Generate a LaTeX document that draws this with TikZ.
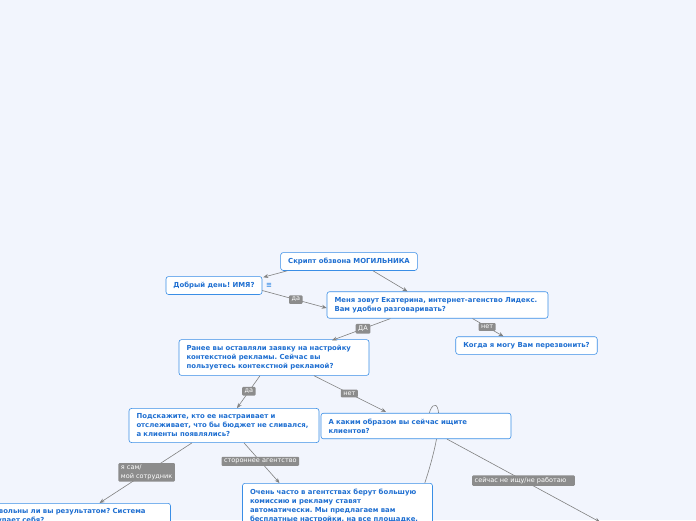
\documentclass[tikz,border=0pt]{standalone}
\usepackage{fontspec}
\setmainfont{DejaVu Sans}
\usepackage{xcolor}
\usetikzlibrary{arrows.meta}
\frenchspacing
\definecolor{mBack}{HTML}{F2F5FD}
\definecolor{mBoxBlue}{HTML}{3A8EE6}
\definecolor{mTextBlue}{HTML}{1F6FD1}
\definecolor{mLineGrey}{HTML}{808080}
\definecolor{mLabelGrey}{HTML}{8C8C8C}
\pgfdeclarelayer{back}
\pgfdeclarelayer{links}
\pgfsetlayers{back,links,main}
\newcommand{\snode}[4][]{%
 \node[draw=mBoxBlue, fill=white, semithick, rounded corners=2.5pt, inner xsep=7.5pt, inner ysep=5.5pt, font=\bfseries\fontsize{6.9}{9}\selectfont, text=mTextBlue, align=left, #1] (#2) at (#3) {#4};}
\tikzset{
 link/.style={-{Stealth[length=5pt,width=4pt]}, mLineGrey, semithick},
 lbl/.style={fill=mLabelGrey, text=white, font=\fontsize{6.5}{8.5}\selectfont, inner xsep=2.5pt, inner ysep=2pt, rounded corners=1pt, align=left}
}

\begin{document}
\begin{tikzpicture}[x=1pt,y=-1pt]
\begin{pgfonlayer}{back}
\fill[mBack] (0,0) rectangle (696,520);
\end{pgfonlayer}
\useasboundingbox (0,0) rectangle (696,520);
\clip (0,0) rectangle (696,520);
\snode{root}{349,261.5}{Скрипт обзвона МОГИЛЬНИКА}
\snode{dobry}{214,285.5}{Добрый день! ИМЯ?}
\node[text=mBoxBlue, font=\bfseries\fontsize{7}{7}\selectfont, inner sep=0pt] (note) at (269,285) {≡};
\snode[text width=206pt]{menya}{437.5,305}{Меня зовут Екатерина, интернет-агенство Лидекс.\\Вам удобно разговаривать?}
\snode{kogda}{526.5,345.5}{Когда я могу Вам перезвонить?}
\snode[text width=175pt]{ranee}{274,357.5}{Ранее вы оставляли заявку на настройку\\контекстной рекламы. Сейчас вы\\пользуетесь контекстной рекламой?}
\snode[text width=175pt]{podsk}{224,425.5}{Подскажите, кто ее настраивает и\\отслеживает, что бы бюджет не сливался,\\а клиенты появлялись?}
\snode[text width=175pt]{akakim}{416,426}{А каким образом вы сейчас ищите\\клиентов?}
\snode[text width=175pt, anchor=north]{dovol}{75.5,503}{Довольны ли вы результатом? Система\\окупает себя?}
\snode[text width=175pt, anchor=north]{ochen}{337.5,483}{Очень часто в агентствах берут большую\\комиссию и рекламу ставят\\автоматически. Мы предлагаем вам\\бесплатные настройки, на все площадке,}
\coordinate (away) at (600,522);
\draw[link] ([shift={(7,0)}]root.south west) -- ([shift={(1,1)}]dobry.north east);
\draw[link] ([shift={(24,0)}]root.south) -- ([shift={(-30,0)}]menya.north);
\draw[link] ([shift={(0,5)}]dobry.east) -- node[lbl, pos=0.52] {да} ([shift={(0,3)}]menya.west);
\draw[link] ([shift={(-47,0)}]menya.south) -- node[lbl, pos=0.47] {ДА} ([shift={(58,1)}]ranee.north);
\draw[link] ([shift={(35,0)}]menya.south) -- node[lbl, pos=0.47] {нет} ([shift={(-23,0)}]kogda.north);
\draw[link] ([shift={(-14,0)}]ranee.south) -- node[lbl, pos=0.48] {да} ([shift={(13,0)}]podsk.north);
\draw[link] ([shift={(40,0)}]ranee.south) -- node[lbl, pos=0.49] {нет} ([shift={(-30,-1)}]akakim.north);
\draw[link] ([shift={(-32,0)}]podsk.south) -- node[lbl, pos=0.49] {я сам/\\мой сотрудник} ([shift={(24,0)}]dovol.north);
\draw[link] ([shift={(20,0)}]podsk.south) -- node[lbl, pos=0.46] {стороннее агентство} ([shift={(-58,0)}]ochen.north);
\draw[link] ([shift={(31,0)}]akakim.south) -- node[lbl, pos=0.5] {сейчас не ищу/не работаю\hspace{6pt}} (away);
\begin{pgfonlayer}{links}
\draw[mLineGrey, semithick] ([shift={(-8,0)}]ochen.north east) .. controls (452,400) and (432,392) .. ([shift={(12,6)}]akakim.north);
\end{pgfonlayer}
\end{tikzpicture}
\end{document}
